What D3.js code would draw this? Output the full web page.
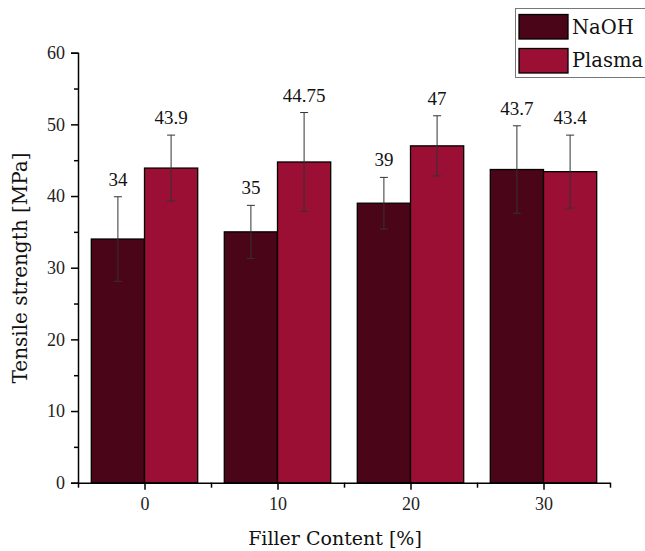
<!DOCTYPE html>
<html>
<head>
<meta charset="utf-8">
<script src="https://cdn.jsdelivr.net/npm/d3@7"></script>
<style>
  html, body { margin: 0; padding: 0; background: #fff; }
  svg { display: block; font-family: "Liberation Serif", serif; }
  svg text { font-family: "Liberation Serif", serif; }
  svg text.wide { font-family: "DejaVu Serif", serif; }
</style>
</head>
<body>
<svg id="chart" width="645" height="551"></svg>
<script>
// Tensile strength by filler content for two surface treatments
const fillerContent = [0, 10, 20, 30];
const seriesNames = ["NaOH", "Plasma"];
const naohMean = [34, 35, 39, 43.7];
const naohErr = [5.9, 3.7, 3.6, 6.1];
const plasmaMean = [43.9, 44.75, 47, 43.4];
const plasmaErr = [4.6, 6.9, 4.2, 5.1];
const yTicks = [0, 10, 20, 30, 40, 50, 60];
const xTicks = [0, 10, 20, 30];

const colors = { NaOH: "#4a0518", Plasma: "#9a0f33" };

const svg = d3.select("#chart");
const margin = { left: 78, right: 35, top: 52.7, bottom: 68.3 };
const W = 645, H = 551;

const x = d3.scaleLinear().domain([-5, 35]).range([margin.left, W - margin.right]);
const y = d3.scaleLinear().domain([0, 60]).range([H - margin.bottom, margin.top]);

const barHalf = 4; // bar width in x-units

const rows = [];
fillerContent.forEach((c, i) => {
  rows.push({ s: "NaOH", c, x0: c - barHalf, x1: c, v: naohMean[i], e: naohErr[i] });
  rows.push({ s: "Plasma", c, x0: c, x1: c + barHalf, v: plasmaMean[i], e: plasmaErr[i] });
});

// bars
svg.append("g").selectAll("rect").data(rows).join("rect")
  .attr("x", d => x(d.x0))
  .attr("width", d => x(d.x1) - x(d.x0))
  .attr("y", d => y(d.v))
  .attr("height", d => y(0) - y(d.v))
  .attr("fill", d => colors[d.s])
  .attr("stroke", "#000")
  .attr("stroke-width", 1.3);

// error bars
const eb = svg.append("g").attr("stroke", "#333").attr("stroke-width", 1);
rows.forEach(d => {
  const cx = (x(d.x0) + x(d.x1)) / 2;
  eb.append("line").attr("x1", cx).attr("x2", cx).attr("y1", y(d.v + d.e)).attr("y2", y(d.v - d.e));
  [d.v + d.e, d.v - d.e].forEach(v => {
    eb.append("line").attr("x1", cx - 4).attr("x2", cx + 4).attr("y1", y(v)).attr("y2", y(v));
  });
});

// value labels
svg.append("g").selectAll("text").data(rows).join("text")
  .attr("x", d => (x(d.x0) + x(d.x1)) / 2)
  .attr("y", d => y(d.v + d.e) - 11)
  .attr("text-anchor", "middle")
  .attr("font-size", 19)
  .attr("fill", "#111")
  .text(d => d.v);

// y axis
const yAxis = svg.append("g").attr("transform", `translate(${x(-5)},0)`);
yAxis.call(d3.axisLeft(y).tickValues(yTicks).tickSize(7).tickPadding(6).tickFormat(d3.format("d")));
yAxis.append("g").call(d3.axisLeft(y).tickValues([5, 15, 25, 35, 45, 55]).tickSize(4).tickFormat(""))
  .select(".domain").remove();
yAxis.selectAll(".domain, line").attr("stroke", "#000").attr("stroke-width", 1.5);
yAxis.selectAll("text").attr("fill", "#222").attr("font-size", 18);

// x axis
const xAxis = svg.append("g").attr("transform", `translate(0,${y(0)})`);
xAxis.call(d3.axisBottom(x).tickValues(xTicks).tickSize(7).tickPadding(8).tickFormat(d3.format("d")).tickSizeOuter(0));
xAxis.append("g").call(d3.axisBottom(x).tickValues([-5, 5, 15, 25, 35]).tickSize(5).tickFormat(""))
  .select(".domain").remove();
xAxis.selectAll(".domain, line").attr("stroke", "#000").attr("stroke-width", 1.5);
xAxis.selectAll("text").attr("fill", "#222").attr("font-size", 18);

// axis titles
svg.append("text")
  .attr("class", "wide")
  .attr("x", 335)
  .attr("y", 545)
  .attr("text-anchor", "middle")
  .attr("font-size", 19)
  .attr("fill", "#111")
  .text("Filler Content [%]");

svg.append("text")
  .attr("class", "wide")
  .attr("transform", `translate(27,${268}) rotate(-90)`)
  .attr("text-anchor", "middle")
  .attr("font-size", 20)
  .attr("fill", "#111")
  .text("Tensile strength [MPa]");

// legend
const lg = svg.append("g");
lg.append("rect").attr("x", 515.5).attr("y", 8.5).attr("width", 140).attr("height", 69)
  .attr("fill", "#fff").attr("stroke", "#777").attr("stroke-width", 1);
seriesNames.forEach((s, i) => {
  lg.append("rect").attr("x", 519).attr("y", 14.5 + i * 34).attr("width", 49).attr("height", 24.5)
    .attr("fill", colors[s]).attr("stroke", "#000").attr("stroke-width", 1.3);
  lg.append("text").attr("class", "wide").attr("x", 572).attr("y", 34 + i * 33)
    .attr("font-size", 19.5).attr("fill", "#111").text(s);
});
</script>
</body>
</html>
